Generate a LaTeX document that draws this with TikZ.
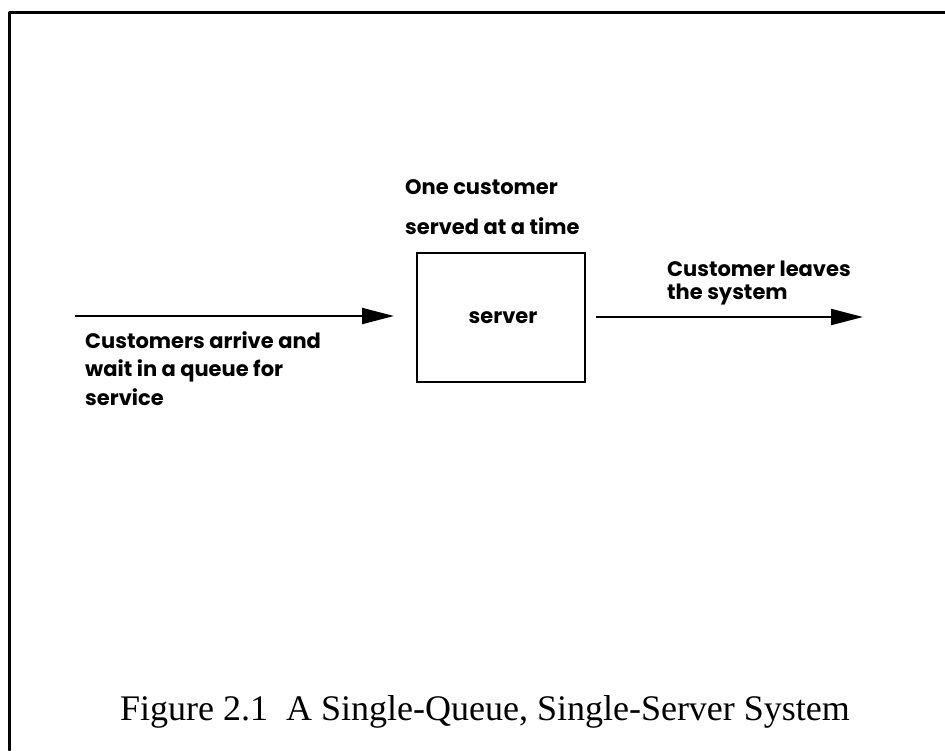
\documentclass[tikz,border=0pt]{standalone}
\usepackage{fontspec}
\setmainfont{Liberation Serif}
\newfontfamily\labfont{Poppins}
\usetikzlibrary{arrows.meta}
\tikzset{
  frameline/.style={line width=3pt, line cap=round, line join=round},
  lab/.style={font=\labfont\bfseries\fontsize{21}{24}\selectfont, inner sep=0pt, align=left},
  srvbox/.style={draw, line width=2pt, minimum width=168pt, minimum height=129pt, inner sep=0pt},
  flow/.style={line width=2pt, -{Triangle[length=32pt,width=16pt]}},
  captext/.style={font=\fontsize{36}{40}\selectfont, inner sep=0pt}
}
\begin{document}
\begin{tikzpicture}[x=1pt,y=-1pt]
\useasboundingbox (0,0) rectangle (945,750);
% frame
\coordinate (fr1) at (945,12);
\coordinate (fr2) at (9,12);
\coordinate (fr3) at (9,750);
\draw[frameline] (fr1) -- (fr2) -- (fr3);
% server
\node[srvbox] (srv) at (501,317.5) {};
\node[lab, anchor=base] (srvt) at (503,323) {server};
% arrows
\coordinate (inA) at (75,316);
\coordinate (outB) at (863,317);
\draw[flow, shorten >=22pt] (inA) -- (inA -| srv.west);
\draw[flow, shorten <=10pt] (outB -| srv.east) -- (outB);
% labels (anchor = baseline of last line)
\node[lab, anchor=base west, font=\labfont\bfseries\fontsize{21}{40}\selectfont] (top) at (405,234) {One customer\\served at a time};
\node[lab, anchor=base west, font=\labfont\bfseries\fontsize{21}{23}\selectfont] (right) at (667,299) {Customer leaves\\the system};
\node[lab, anchor=base west, font=\labfont\bfseries\fontsize{21}{28.5}\selectfont] (left) at (85,405) {Customers arrive and\\wait in a queue for\\service};
% caption
\node[captext, anchor=base] (cap) at (485,720) {Figure 2.1\ \ A Single-Queue, Single-Server System};
\end{tikzpicture}
\end{document}
